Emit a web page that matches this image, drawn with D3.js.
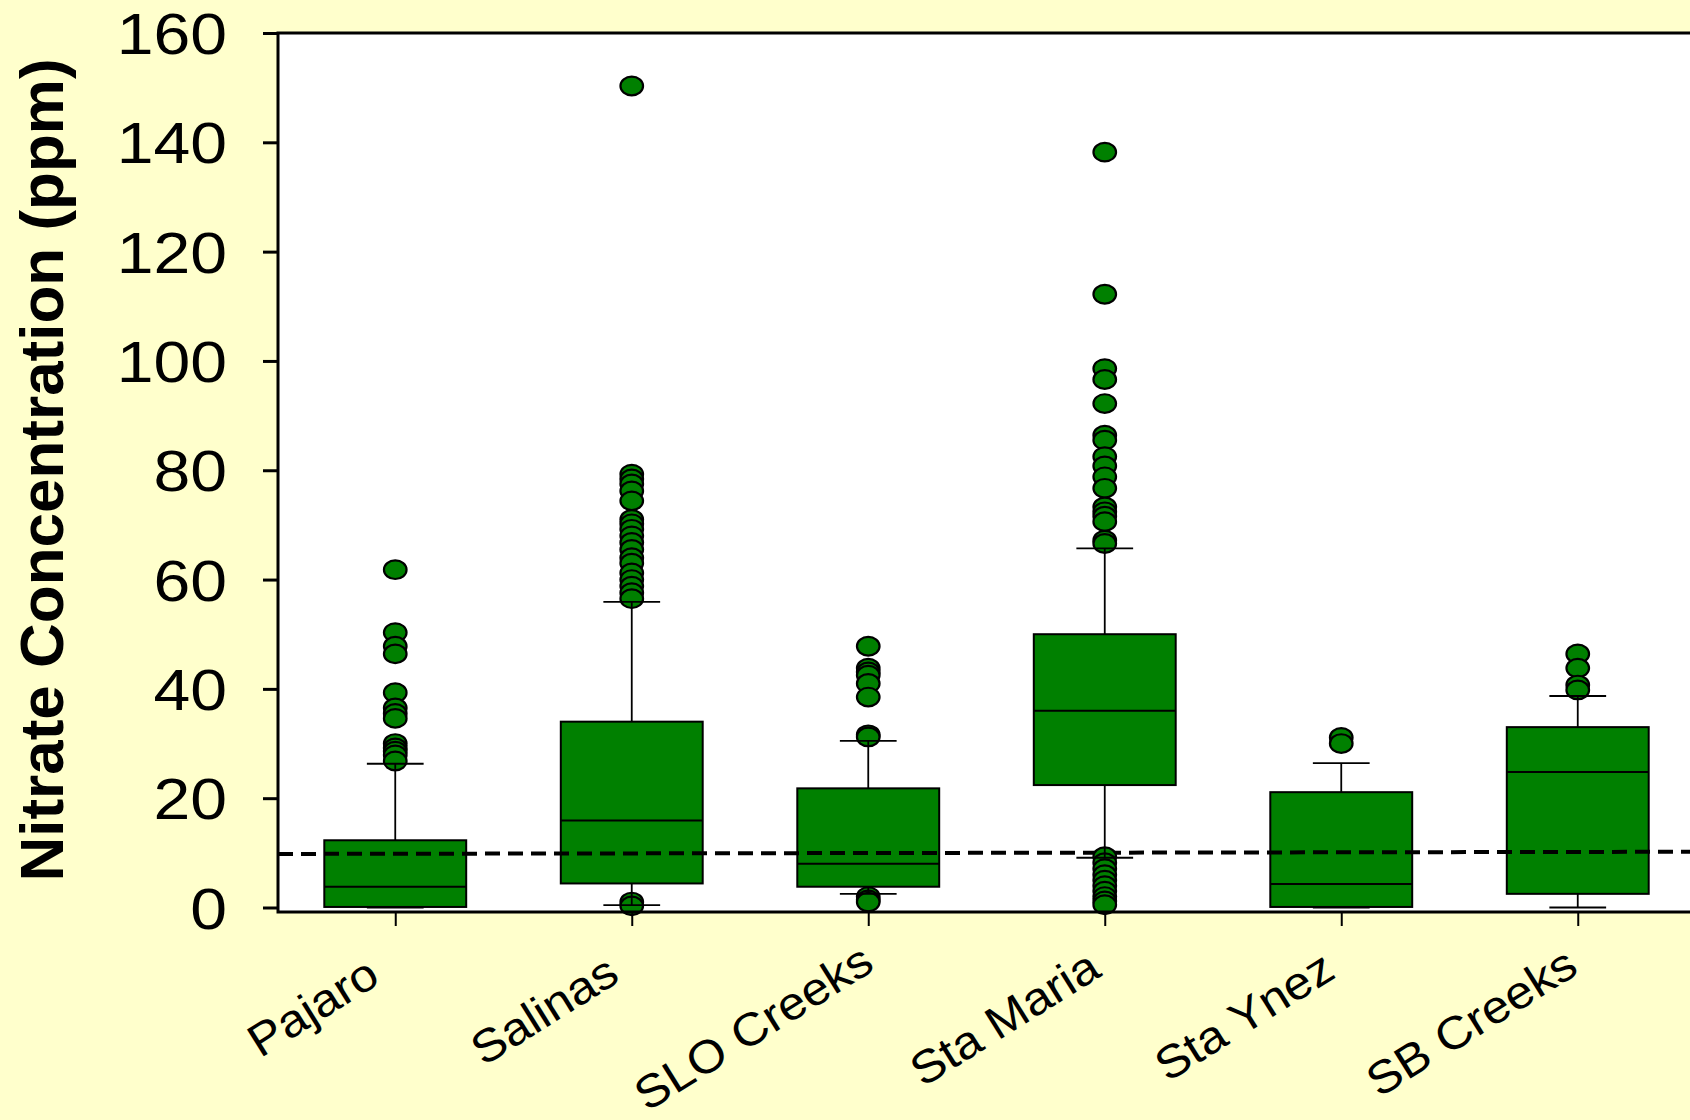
<!DOCTYPE html>
<html>
<head>
<meta charset="utf-8">
<script src="https://cdn.jsdelivr.net/npm/d3@7"></script>
<style>
  html, body { margin: 0; padding: 0; background: #FFFFCC; }
  svg { display: block; }
  text { font-family: "Liberation Sans", Arial, sans-serif; fill: #000; }
</style>
</head>
<body>
<svg id="chart" width="1690" height="1120"></svg>
<script>
// ---- data ----
const categories = ["Pajaro", "Salinas", "SLO Creeks", "Sta Maria", "Sta Ynez", "SB Creeks"];
const whiskerLow  = [0.0, 0.45, 2.5, 9.1, 0.0, 0.0];
const q1          = [0.1, 4.4, 3.8, 22.4, 0.1, 2.5];
const medians     = [3.8, 15.9, 8.0, 36.0, 4.3, 24.8];
const q3          = [12.3, 34.0, 21.8, 50.0, 21.1, 33.0];
const whiskerHigh = [26.3, 55.9, 30.5, 65.7, 26.4, 38.7];
const outliersPajaro   = [61.8, 50.3, 47.8, 46.4, 39.3, 36.5, 35.5, 34.6, 30.0, 29.2, 28.6, 27.9, 26.8];
const outliersSalinas  = [150.3, 79.3, 78.4, 77.5, 76.2, 74.4, 71.0, 70.2, 69.2, 68.0, 66.8, 65.5, 64.0, 63.0, 61.2, 60.0, 58.8, 57.6, 56.5, 1.0, 0.3];
const outliersSLO      = [47.8, 43.8, 43.1, 42.5, 41.0, 38.5, 31.6, 31.2, 2.0, 1.4, 1.0];
const outliersStaMaria = [138.2, 112.2, 98.6, 96.6, 92.2, 86.4, 85.5, 82.5, 80.8, 78.8, 76.7, 73.3, 72.4, 71.6, 70.6, 67.2, 66.6,
                          9.3, 8.2, 7.1, 6.0, 5.0, 4.0, 3.0, 2.0, 1.2, 0.5];
const outliersStaYnez  = [31.1, 30.0];
const outliersSB       = [46.4, 43.8, 40.7, 39.8];
const outlierLists = [outliersPajaro, outliersSalinas, outliersSLO, outliersStaMaria, outliersStaYnez, outliersSB];
const yTicks = [0, 20, 40, 60, 80, 100, 120, 140, 160];
const mclStart = 9.8, mclEnd = 10.2;   // dashed 10 ppm reference line (slightly tilted in source)
const yTitle = "Nitrate Concentration (ppm)";

// ---- layout ----
const svg = d3.select("#chart");
const plotL = 278, plotR = 1697, plotT = 33, plotB = 912;
const y = d3.scaleLinear().domain([0, 160]).range([907.5, 33]);
const x = d3.scalePoint().domain(categories).range([plotL - 1, plotR - 1]).padding(0.5);
const boxW = x.step() * 0.6;
const capW = boxW * 0.4;
const green = "#008000";

// background
svg.append("rect").attr("width", 1690).attr("height", 1120).attr("fill", "#FFFFCC");
// plot frame
svg.append("rect").attr("x", plotL).attr("y", plotT).attr("width", plotR - plotL).attr("height", plotB - plotT)
  .attr("fill", "#fff");

const rows = categories.map((c, i) => ({
  c, lo: whiskerLow[i], q1: q1[i], med: medians[i], q3: q3[i], hi: whiskerHigh[i], out: outlierLists[i]
}));

// boxes
const g = svg.append("g");
g.selectAll("rect.box").data(rows).join("rect").attr("class", "box")
  .attr("x", d => x(d.c) - boxW / 2).attr("width", boxW)
  .attr("y", d => y(d.q3)).attr("height", d => y(d.q1) - y(d.q3))
  .attr("fill", green).attr("stroke", "#000").attr("stroke-width", 2);
g.selectAll("line.med").data(rows).join("line").attr("class", "med")
  .attr("x1", d => x(d.c) - boxW / 2).attr("x2", d => x(d.c) + boxW / 2)
  .attr("y1", d => y(d.med)).attr("y2", d => y(d.med))
  .attr("stroke", "#000").attr("stroke-width", 2);

// dashed reference line
svg.append("line")
  .attr("x1", plotL).attr("x2", plotR)
  .attr("y1", y(mclStart)).attr("y2", y(mclEnd))
  .attr("stroke", "#000").attr("stroke-width", 4).attr("stroke-dasharray", "15,8");

// outliers
const og = svg.append("g");
rows.forEach(r => {
  og.append("g").selectAll("ellipse").data(r.out).join("ellipse")
    .attr("cx", x(r.c)).attr("cy", v => y(v))
    .attr("rx", 11.3).attr("ry", 9.3)
    .attr("fill", green).attr("stroke", "#000").attr("stroke-width", 2.2);
});

// whiskers + caps
const wg = svg.append("g").attr("stroke", "#000").attr("stroke-width", 1.8);
wg.selectAll("line.wu").data(rows).join("line").attr("class", "wu")
  .attr("x1", d => x(d.c)).attr("x2", d => x(d.c)).attr("y1", d => y(d.q3)).attr("y2", d => y(d.hi));
wg.selectAll("line.wl").data(rows).join("line").attr("class", "wl")
  .attr("x1", d => x(d.c)).attr("x2", d => x(d.c)).attr("y1", d => y(d.q1)).attr("y2", d => y(d.lo));
wg.selectAll("line.cu").data(rows).join("line").attr("class", "cu")
  .attr("x1", d => x(d.c) - capW / 2).attr("x2", d => x(d.c) + capW / 2).attr("y1", d => y(d.hi)).attr("y2", d => y(d.hi));
wg.selectAll("line.cl").data(rows).join("line").attr("class", "cl")
  .attr("x1", d => x(d.c) - capW / 2).attr("x2", d => x(d.c) + capW / 2).attr("y1", d => y(d.lo)).attr("y2", d => y(d.lo));

// frame border
svg.append("rect").attr("x", plotL).attr("y", plotT).attr("width", plotR - plotL).attr("height", plotB - plotT)
  .attr("fill", "none").attr("stroke", "#000").attr("stroke-width", 3);

// y axis
const yAxis = svg.append("g").attr("transform", `translate(${plotL},0)`)
  .call(d3.axisLeft(y).tickValues(yTicks).tickSize(15).tickFormat(d3.format("d")));
yAxis.select(".domain").remove();
yAxis.selectAll(".tick line").attr("stroke", "#000").attr("stroke-width", 3);
yAxis.selectAll(".tick text")
  .attr("x", 0).attr("dy", "0.36em")
  .attr("transform", "translate(-51,0) scale(1.16,1)")
  .attr("text-anchor", "end")
  .attr("fill", "#000")
  .style("font-size", "57px").style("font-family", "'Liberation Sans', Arial, sans-serif");

// x axis ticks
const xAxis = svg.append("g").attr("transform", `translate(0,${plotB})`)
  .call(d3.axisBottom(x).tickSize(14).tickFormat(""));
xAxis.select(".domain").remove();
xAxis.selectAll(".tick line").attr("stroke", "#000").attr("stroke-width", 2);

// category labels
const labels = svg.append("g").selectAll("text").data(categories).join("text")
  .attr("transform", d => `translate(${x(d) - 3},976) rotate(-32) scale(1.08,1)`)
  .attr("text-anchor", "end")
  .style("font-size", "46px")
  .text(d => d);
// longer labels sit slightly further along their baseline, as in the source
const lens = labels.nodes().map(n => n.getComputedTextLength());
const meanLen = d3.mean(lens);
labels.attr("x", (d, i) => 0.2 * (lens[i] - meanLen));

// y title
svg.append("text")
  .attr("transform", "translate(63,470) rotate(-90)")
  .attr("text-anchor", "middle")
  .style("font-size", "62px").style("font-weight", "bold")
  .text(yTitle);
</script>
</body>
</html>
